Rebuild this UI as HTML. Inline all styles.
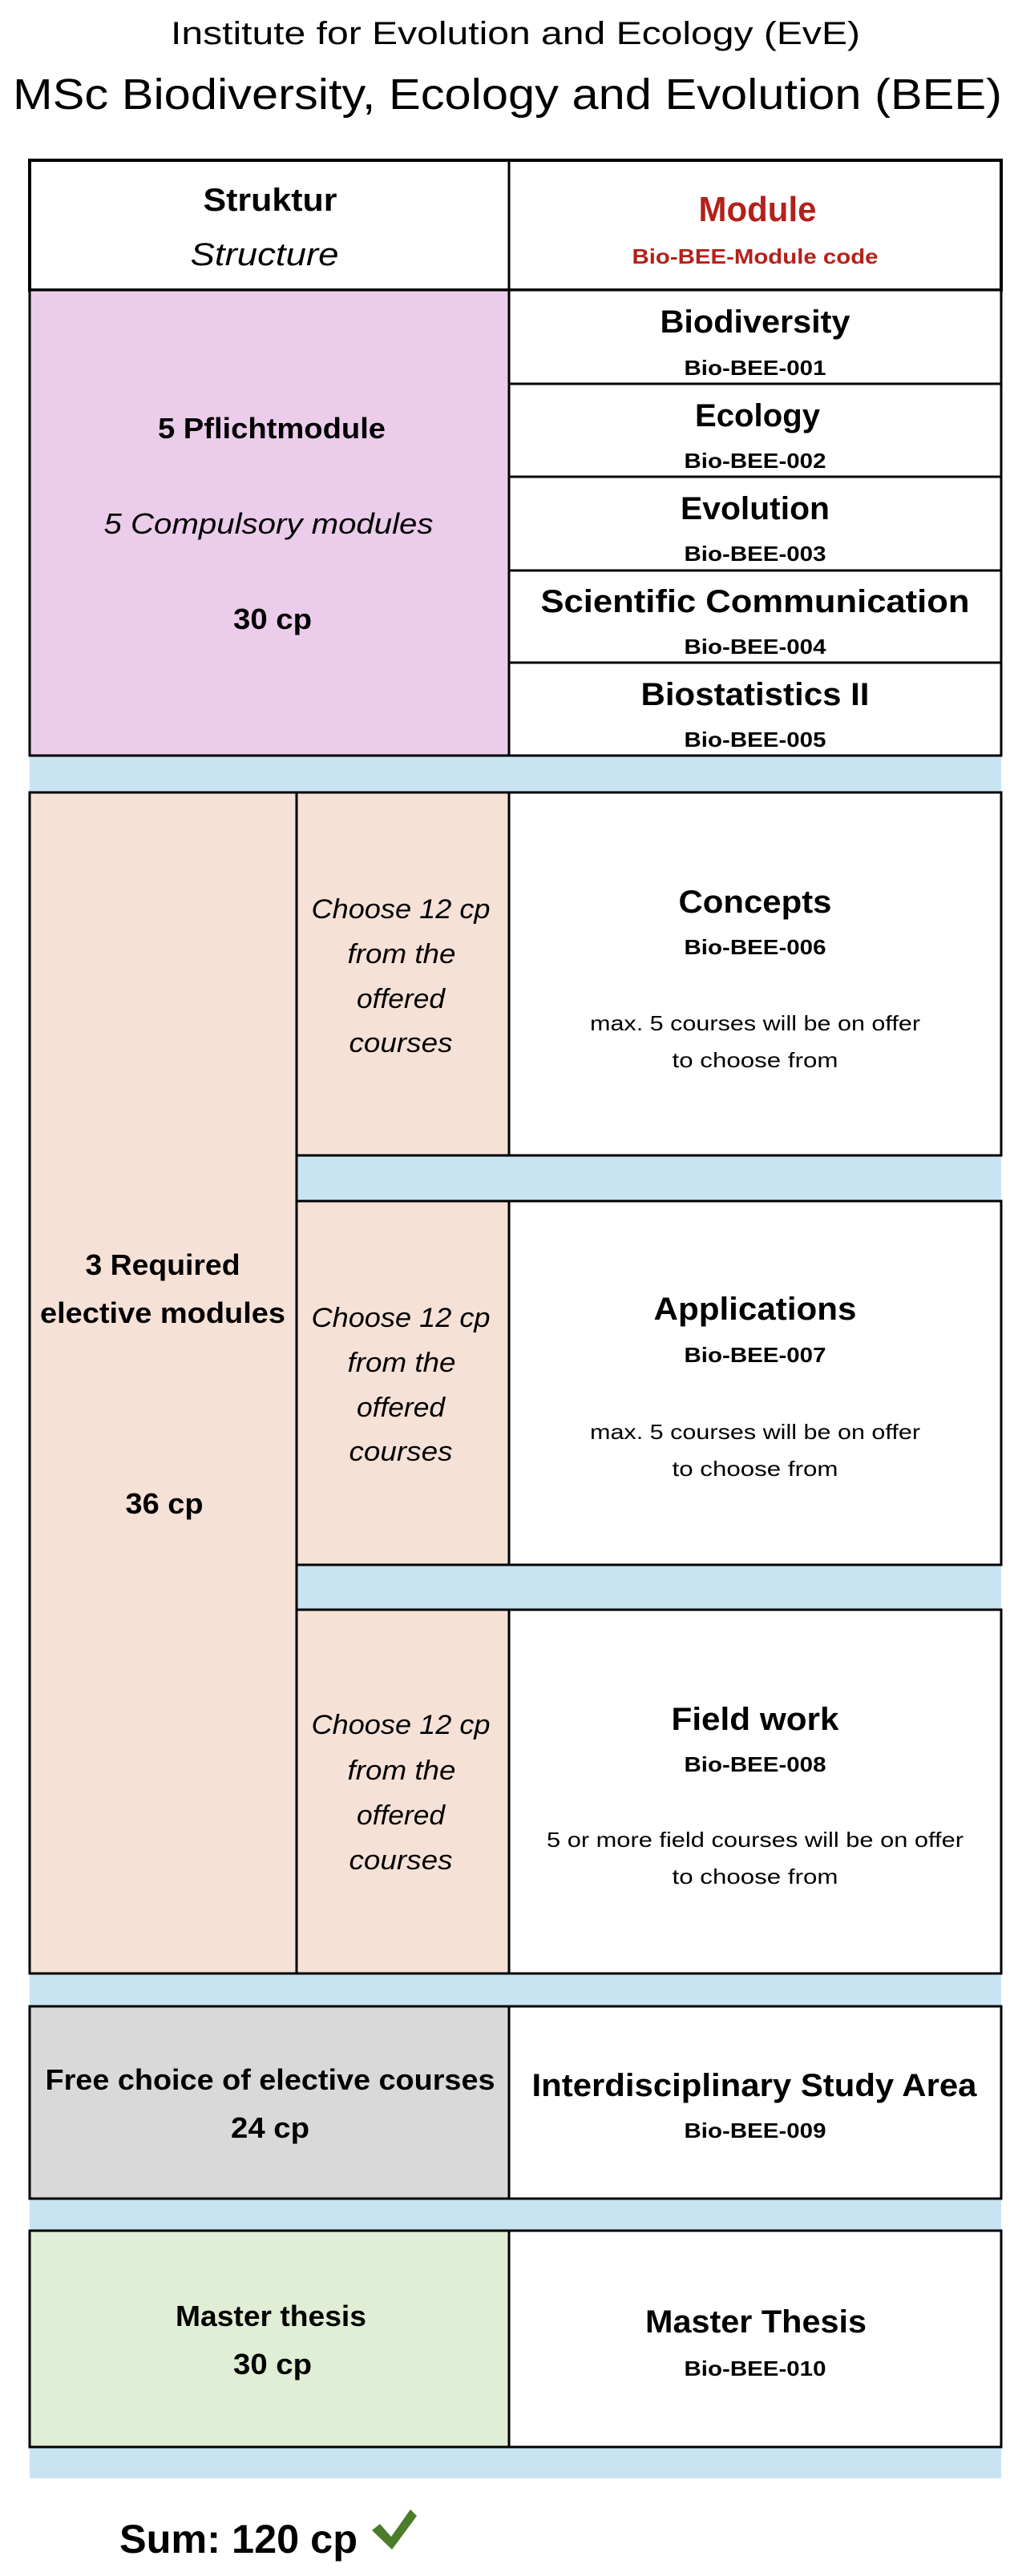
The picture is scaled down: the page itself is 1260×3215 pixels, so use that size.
<!DOCTYPE html>
<html><head><meta charset="utf-8"><style>
html,body{margin:0;padding:0;background:#fff}
svg{display:block}
text{font-family:"Liberation Sans",sans-serif;fill:#000}
.b{font-weight:bold}
.i{font-style:italic}
</style></head><body>
<svg width="1260" height="3215" viewBox="0 0 1260 3215" xmlns="http://www.w3.org/2000/svg">
<!-- titles -->
<text x="643" y="55" font-size="40" text-anchor="middle" textLength="860" lengthAdjust="spacingAndGlyphs">Institute for Evolution and Ecology (EvE)</text>
<text x="633" y="136" font-size="54" text-anchor="middle" textLength="1234" lengthAdjust="spacingAndGlyphs">MSc Biodiversity, Ecology and Evolution (BEE)</text>

<!-- blue bands -->
<rect x="37" y="940" width="1212" height="52" fill="#c8e4f2"/>
<rect x="370" y="1440" width="879" height="62" fill="#c8e4f2"/>
<rect x="370" y="1950" width="879" height="62" fill="#c8e4f2"/>
<rect x="37" y="2460" width="1212" height="47" fill="#c8e4f2"/>
<rect x="37" y="2741" width="1212" height="46" fill="#c8e4f2"/>
<rect x="37" y="3051" width="1212" height="42" fill="#c8e4f2"/>

<g stroke="#000" stroke-width="3">
<!-- header -->
<rect x="37" y="200" width="1212" height="162" fill="#fff" stroke-width="4"/>
<line x1="635" y1="200" x2="635" y2="362"/>
<!-- compulsory -->
<rect x="37" y="362" width="598" height="581" fill="#ebcdeb"/>
<rect x="635" y="362" width="614" height="117" fill="#fff"/>
<rect x="635" y="479" width="614" height="116" fill="#fff"/>
<rect x="635" y="595" width="614" height="117" fill="#fff"/>
<rect x="635" y="712" width="614" height="115" fill="#fff"/>
<rect x="635" y="827" width="614" height="116" fill="#fff"/>
<!-- elective -->
<rect x="37" y="989" width="333" height="1474" fill="#f6e1d7"/>
<rect x="370" y="989" width="265" height="453" fill="#f6e1d7"/>
<rect x="635" y="989" width="614" height="453" fill="#fff"/>
<rect x="370" y="1499" width="265" height="454" fill="#f6e1d7"/>
<rect x="635" y="1499" width="614" height="454" fill="#fff"/>
<rect x="370" y="2009" width="265" height="454" fill="#f6e1d7"/>
<rect x="635" y="2009" width="614" height="454" fill="#fff"/>
<!-- free choice -->
<rect x="37" y="2504" width="598" height="240" fill="#d9d9d9"/>
<rect x="635" y="2504" width="614" height="240" fill="#fff"/>
<!-- thesis -->
<rect x="37" y="2784" width="598" height="270" fill="#dfeed4"/>
<rect x="635" y="2784" width="614" height="270" fill="#fff"/>
</g>

<!-- header text -->
<text class="b" x="337" y="263" font-size="40" text-anchor="middle" textLength="167" lengthAdjust="spacingAndGlyphs">Struktur</text>
<text class="i" x="330" y="331" font-size="40" text-anchor="middle" textLength="185" lengthAdjust="spacingAndGlyphs">Structure</text>
<text class="b" x="945" y="276" font-size="44" text-anchor="middle" textLength="147" lengthAdjust="spacingAndGlyphs" style="fill:#b3211a">Module</text>
<text class="b" x="942" y="329" font-size="26" text-anchor="middle" textLength="307" lengthAdjust="spacingAndGlyphs" style="fill:#b3211a">Bio-BEE-Module code</text>

<!-- compulsory text -->
<text class="b" x="339" y="547" font-size="36" text-anchor="middle" textLength="284" lengthAdjust="spacingAndGlyphs">5 Pflichtmodule</text>
<text class="i" x="335" y="666" font-size="36" text-anchor="middle" textLength="411" lengthAdjust="spacingAndGlyphs">5  Compulsory modules</text>
<text class="b" x="340" y="785" font-size="36" text-anchor="middle" textLength="98" lengthAdjust="spacingAndGlyphs">30 cp</text>

<g text-anchor="middle">
<text class="b" x="942" y="415" font-size="40" textLength="237" lengthAdjust="spacingAndGlyphs">Biodiversity</text>
<text class="b" x="942" y="468" font-size="26" textLength="177" lengthAdjust="spacingAndGlyphs">Bio-BEE-001</text>
<text class="b" x="945" y="532" font-size="40" textLength="156" lengthAdjust="spacingAndGlyphs">Ecology</text>
<text class="b" x="942" y="584" font-size="26" textLength="177" lengthAdjust="spacingAndGlyphs">Bio-BEE-002</text>
<text class="b" x="942" y="648" font-size="40" textLength="186" lengthAdjust="spacingAndGlyphs">Evolution</text>
<text class="b" x="942" y="700" font-size="26" textLength="177" lengthAdjust="spacingAndGlyphs">Bio-BEE-003</text>
<text class="b" x="942" y="764" font-size="40" textLength="535" lengthAdjust="spacingAndGlyphs">Scientific Communication</text>
<text class="b" x="942" y="816" font-size="26" textLength="177" lengthAdjust="spacingAndGlyphs">Bio-BEE-004</text>
<text class="b" x="942" y="880" font-size="40" textLength="285" lengthAdjust="spacingAndGlyphs">Biostatistics II</text>
<text class="b" x="942" y="932" font-size="26" textLength="177" lengthAdjust="spacingAndGlyphs">Bio-BEE-005</text>

<!-- elective left -->
<text class="b" x="203" y="1591" font-size="36" textLength="193" lengthAdjust="spacingAndGlyphs">3 Required</text>
<text class="b" x="203" y="1651" font-size="36" textLength="306" lengthAdjust="spacingAndGlyphs">elective modules</text>
<text class="b" x="205" y="1889" font-size="36" textLength="97" lengthAdjust="spacingAndGlyphs">36 cp</text>

<!-- sub rows: choose text -->
<g class="i" font-size="34">
<text class="i" x="500" y="1146" textLength="223" lengthAdjust="spacingAndGlyphs">Choose 12 cp</text>
<text class="i" x="501" y="1202" textLength="135" lengthAdjust="spacingAndGlyphs">from the</text>
<text class="i" x="500" y="1258" textLength="110" lengthAdjust="spacingAndGlyphs">offered</text>
<text class="i" x="500" y="1313" textLength="129" lengthAdjust="spacingAndGlyphs">courses</text>

<text class="i" x="500" y="1656" textLength="223" lengthAdjust="spacingAndGlyphs">Choose 12 cp</text>
<text class="i" x="501" y="1712" textLength="135" lengthAdjust="spacingAndGlyphs">from the</text>
<text class="i" x="500" y="1768" textLength="110" lengthAdjust="spacingAndGlyphs">offered</text>
<text class="i" x="500" y="1823" textLength="129" lengthAdjust="spacingAndGlyphs">courses</text>

<text class="i" x="500" y="2164" textLength="223" lengthAdjust="spacingAndGlyphs">Choose 12 cp</text>
<text class="i" x="501" y="2221" textLength="135" lengthAdjust="spacingAndGlyphs">from the</text>
<text class="i" x="500" y="2277" textLength="110" lengthAdjust="spacingAndGlyphs">offered</text>
<text class="i" x="500" y="2333" textLength="129" lengthAdjust="spacingAndGlyphs">courses</text>
</g>

<!-- sub rows: module text -->
<text class="b" x="942" y="1139" font-size="40" textLength="191" lengthAdjust="spacingAndGlyphs">Concepts</text>
<text class="b" x="942" y="1191" font-size="26" textLength="177" lengthAdjust="spacingAndGlyphs">Bio-BEE-006</text>
<text x="942" y="1286" font-size="26" textLength="412" lengthAdjust="spacingAndGlyphs">max. 5 courses will be on offer</text>
<text x="942" y="1332" font-size="26" textLength="207" lengthAdjust="spacingAndGlyphs">to choose from</text>

<text class="b" x="942" y="1647" font-size="40" textLength="253" lengthAdjust="spacingAndGlyphs">Applications</text>
<text class="b" x="942" y="1700" font-size="26" textLength="177" lengthAdjust="spacingAndGlyphs">Bio-BEE-007</text>
<text x="942" y="1796" font-size="26" textLength="412" lengthAdjust="spacingAndGlyphs">max. 5 courses will be on offer</text>
<text x="942" y="1842" font-size="26" textLength="207" lengthAdjust="spacingAndGlyphs">to choose from</text>

<text class="b" x="942" y="2159" font-size="40" textLength="209" lengthAdjust="spacingAndGlyphs">Field work</text>
<text class="b" x="942" y="2211" font-size="26" textLength="177" lengthAdjust="spacingAndGlyphs">Bio-BEE-008</text>
<text x="942" y="2305" font-size="26" textLength="520" lengthAdjust="spacingAndGlyphs">5 or more field courses will be on offer</text>
<text x="942" y="2351" font-size="26" textLength="207" lengthAdjust="spacingAndGlyphs">to choose from</text>

<!-- free choice -->
<text class="b" x="337" y="2608" font-size="36" textLength="561" lengthAdjust="spacingAndGlyphs">Free choice of elective courses</text>
<text class="b" x="337" y="2668" font-size="36" textLength="98" lengthAdjust="spacingAndGlyphs">24 cp</text>
<text class="b" x="941" y="2616" font-size="40" textLength="555" lengthAdjust="spacingAndGlyphs">Interdisciplinary Study Area</text>
<text class="b" x="942" y="2668" font-size="26" textLength="177" lengthAdjust="spacingAndGlyphs">Bio-BEE-009</text>

<!-- thesis -->
<text class="b" x="338" y="2903" font-size="36" textLength="238" lengthAdjust="spacingAndGlyphs">Master thesis</text>
<text class="b" x="340" y="2963" font-size="36" textLength="98" lengthAdjust="spacingAndGlyphs">30 cp</text>
<text class="b" x="943" y="2911" font-size="40" textLength="276" lengthAdjust="spacingAndGlyphs">Master Thesis</text>
<text class="b" x="942" y="2965" font-size="26" textLength="177" lengthAdjust="spacingAndGlyphs">Bio-BEE-010</text>
</g>

<!-- sum -->
<text class="b" x="149" y="3186" font-size="50" textLength="297" lengthAdjust="spacingAndGlyphs">Sum: 120 cp</text>
<path d="M464 3158 L474 3150 L488 3166 L512 3132 L520 3140 L489 3182 Z" fill="#4a7c2a"/>
</svg>
</body></html>
